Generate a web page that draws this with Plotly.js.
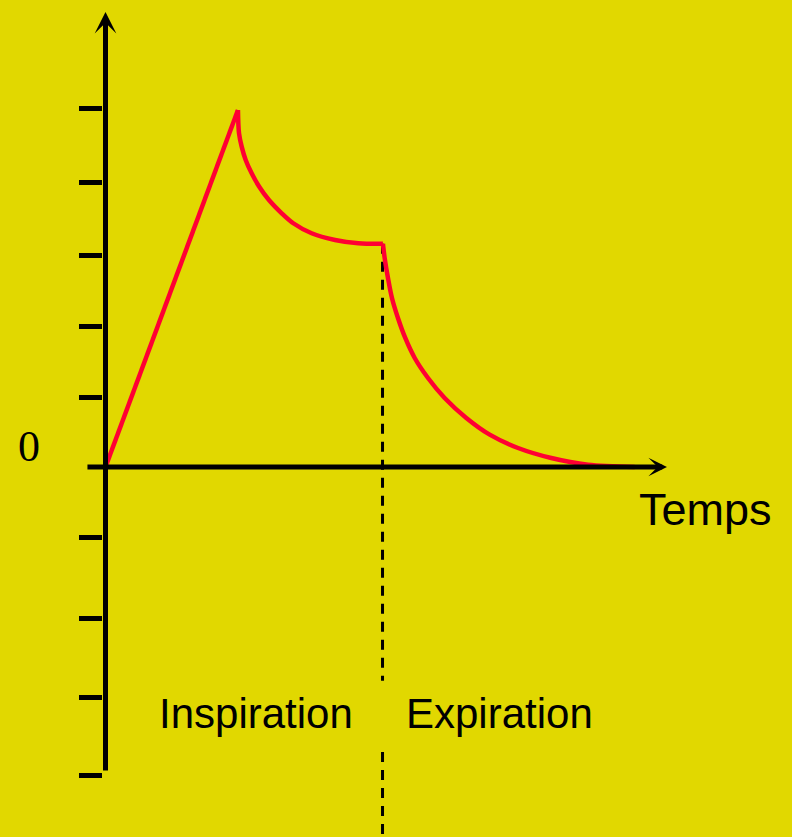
<!DOCTYPE html>
<html>
<head>
<meta charset="utf-8">
<script src="https://cdn.plot.ly/plotly-3.0.1.min.js"></script>
<style>
  html, body { margin: 0; padding: 0; background: #E1D800; }
  #chart { width: 792px; height: 837px; }
</style>
</head>
<body>
<div id="chart"></div>
<script>
// ---- Data (time in arbitrary units, pressure in arbitrary units) ----
const rampTime = [0, 0.996];
const rampValue = [0, 4.958];

const inspDecayTime = [0.996, 1.004, 1.024, 1.054, 1.099, 1.156, 1.229, 1.325, 1.412, 1.550, 1.726, 1.901, 2.086];
const inspDecayValue = [4.958, 4.635, 4.449, 4.264, 4.079, 3.893, 3.708, 3.524, 3.385, 3.246, 3.153, 3.107, 3.100];

const expDecayTime = [2.086, 2.099, 2.124, 2.154, 2.199, 2.254, 2.325, 2.425, 2.550, 2.713, 2.889, 3.102, 3.352, 3.628, 3.979];
const expDecayValue = [3.100, 2.903, 2.625, 2.347, 2.069, 1.792, 1.514, 1.236, 0.958, 0.681, 0.449, 0.264, 0.125, 0.032, 0.0];

// phase boundary (end of inspiration), dashed marker
const phaseTime = [2.083, 2.083, null, 2.083, 2.083];
const phaseValue = [3.10, -2.97, null, -3.96, -5.3];

// y-axis tick marks
const yTickValues = [4.98, 3.95, 2.94, 1.95, 0.96, -0.98, -2.11, -3.20, -4.29];

// labels
const zeroLabel = "0";
const xAxisLabel = "Temps";
const phaseLabels = ["Inspiration", "Expiration"];
const phaseLabelTime = [1.132, 2.966];

// axis extents
const xAxisStart = -0.147, xAxisEnd = 4.222;
const yAxisStart = -4.236, yAxisEnd = 6.319;

const red = '#FF0033';
const bg = '#E1D800';
const curveLine = { color: red, width: 4.5, shape: 'spline', smoothing: 0.9 };

const traces = [
  { x: phaseTime, y: phaseValue, mode: 'lines', connectgaps: false, line: { color: '#000', width: 3, dash: '10px,8px' }, hoverinfo: 'skip' },
  { x: rampTime, y: rampValue, mode: 'lines', line: { color: red, width: 4.5 }, hoverinfo: 'skip' },
  { x: inspDecayTime, y: inspDecayValue, mode: 'lines', line: curveLine, hoverinfo: 'skip' },
  { x: expDecayTime, y: expDecayValue, mode: 'lines', line: curveLine, hoverinfo: 'skip' }
];

const annotations = [
  // y axis with arrow
  { x: 0, y: yAxisEnd, ax: 0, ay: yAxisStart, xref: 'x', yref: 'y', axref: 'x', ayref: 'y',
    text: '', showarrow: true, arrowhead: 3, arrowsize: 0.72, arrowwidth: 5, arrowcolor: '#000', standoff: 0 },
  // x axis with arrow
  { x: xAxisEnd, y: 0, ax: xAxisStart, ay: 0, xref: 'x', yref: 'y', axref: 'x', ayref: 'y',
    text: '', showarrow: true, arrowhead: 3, arrowsize: 0.62, arrowwidth: 5, arrowcolor: '#000', standoff: 0 },
  { x: -0.108, y: 0.466, xref: 'paper', yref: 'paper', text: zeroLabel, showarrow: false,
    xanchor: 'center', yanchor: 'middle', font: { family: 'Liberation Serif, Times New Roman, serif', size: 44, color: '#000' } },
  { x: 4.508, y: -0.597, xref: 'x', yref: 'y', text: xAxisLabel, showarrow: false,
    xanchor: 'center', yanchor: 'middle', font: { family: 'Liberation Sans, Arial, sans-serif', size: 45, color: '#000' } },
  { x: phaseLabelTime[0], y: -3.417, xref: 'x', yref: 'y', text: phaseLabels[0], showarrow: false,
    xanchor: 'center', yanchor: 'middle', font: { family: 'Liberation Sans, Arial, sans-serif', size: 42, color: '#000' } },
  { x: phaseLabelTime[1], y: -3.417, xref: 'x', yref: 'y', text: phaseLabels[1], showarrow: false,
    xanchor: 'center', yanchor: 'middle', font: { family: 'Liberation Sans, Arial, sans-serif', size: 42, color: '#000' } }
];

const layout = {
  width: 792, height: 837,
  paper_bgcolor: bg, plot_bgcolor: bg,
  margin: { l: 103, r: 0, t: 0, b: 0, pad: 0 },
  showlegend: false,
  xaxis: { range: [-0.0188, 5.162], visible: false, fixedrange: true },
  yaxis: {
    range: [-5.139, 6.486], showline: false, showgrid: false, zeroline: false,
    ticks: 'outside', ticklen: 23, tickwidth: 5, tickcolor: '#000',
    tickmode: 'array', tickvals: yTickValues, showticklabels: false, fixedrange: true
  },
  annotations: annotations
};

Plotly.newPlot('chart', traces, layout, { staticPlot: true });
</script>
</body>
</html>
